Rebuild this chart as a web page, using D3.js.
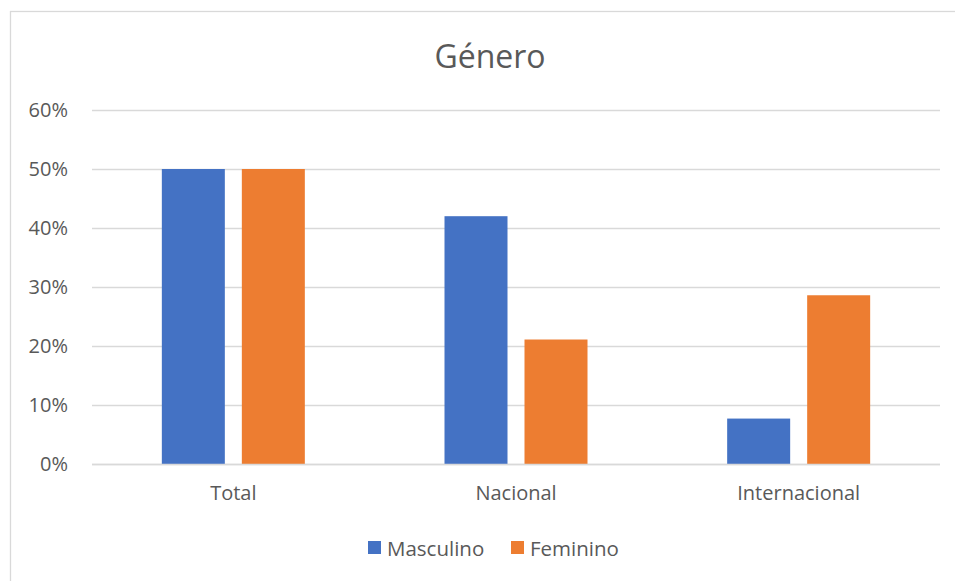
<!DOCTYPE html>
<html>
<head>
<meta charset="utf-8">
<script src="https://cdn.jsdelivr.net/npm/d3@7"></script>
<style>
  html, body { margin: 0; padding: 0; background: #fff; }
  svg { display: block; font-family: "Open Sans", "Noto Sans", sans-serif; }
</style>
</head>
<body>
<svg id="chart" width="955" height="581"></svg>
<script>
// Gender breakdown by group
const categories = ["Total", "Nacional", "Internacional"];
const seriesNames = ["Masculino", "Feminino"];
const masculino = [0.50, 0.42, 0.077];
const feminino = [0.50, 0.211, 0.286];
const yTicks = [0, 0.1, 0.2, 0.3, 0.4, 0.5, 0.6];
const colors = ["#4472c4", "#ed7d31"];

const seriesValues = [masculino, feminino];
const rows = categories.map((c, i) => ({
  category: c,
  values: seriesNames.map((s, j) => ({ series: s, value: seriesValues[j][i] }))
}));

const svg = d3.select("#chart");
const W = 955, H = 581;
const plot = { left: 92, right: 940, top: 110, bottom: 464 };
const fontStack = "'Open Sans', 'Noto Sans', sans-serif";
const textColor = "#595959";

// Chart frame
svg.append("rect")
  .attr("x", 10.5).attr("y", 11.5)
  .attr("width", W).attr("height", H)
  .attr("fill", "#fff")
  .attr("stroke", "#d9d9d9").attr("stroke-width", 1.3);

const y = d3.scaleLinear().domain([0, 0.6]).range([plot.bottom, plot.top]);
const x0 = d3.scaleBand().domain(categories).range([plot.left, plot.right]).padding(0);
const groupWidth = 143;
const x1 = d3.scaleBand().domain(seriesNames).range([0, groupWidth])
  .paddingInner(0.2125).paddingOuter(0);
const color = d3.scaleOrdinal().domain(seriesNames).range(colors);

// Title
svg.append("text")
  .attr("x", 490).attr("y", 68)
  .attr("text-anchor", "middle")
  .attr("font-size", 32)
  .attr("fill", textColor)
  .text("Género");

// Gridlines and y labels
const yAxis = d3.axisLeft(y)
  .tickValues(yTicks)
  .tickFormat(d3.format(".0%"))
  .tickSize(-(plot.right - plot.left))
  .tickPadding(24);

const gy = svg.append("g")
  .attr("transform", `translate(${plot.left},0)`)
  .call(yAxis);
gy.select(".domain").remove();
gy.selectAll(".tick line")
  .attr("stroke", "#d9d9d9").attr("stroke-width", 1.3);
gy.selectAll(".tick text")
  .attr("fill", textColor)
  .attr("font-size", 20)
  .attr("font-family", fontStack);

// Bars
const groups = svg.append("g").selectAll("g")
  .data(rows)
  .join("g")
  .attr("transform", d => `translate(${x0(d.category) + (x0.bandwidth() - groupWidth) / 2},0)`);

groups.selectAll("rect")
  .data(d => d.values)
  .join("rect")
  .attr("x", d => x1(d.series))
  .attr("y", d => y(d.value))
  .attr("width", x1.bandwidth())
  .attr("height", d => y(0) - y(d.value))
  .attr("fill", d => color(d.series));

// Baseline
svg.append("line")
  .attr("x1", plot.left).attr("x2", plot.right)
  .attr("y1", y(0) + 0.5).attr("y2", y(0) + 0.5)
  .attr("stroke", "#d9d9d9").attr("stroke-width", 1.3);

// Category axis labels
const xAxis = d3.axisBottom(x0).tickSize(0).tickPadding(22);
const gx = svg.append("g")
  .attr("transform", `translate(0,${plot.bottom})`)
  .call(xAxis);
gx.select(".domain").remove();
gx.selectAll(".tick text")
  .attr("fill", textColor)
  .attr("font-size", 20)
  .attr("font-family", fontStack);

// Legend
const legendItems = [
  { name: seriesNames[0], x: 368 },
  { name: seriesNames[1], x: 511 }
];
const lg = svg.append("g").selectAll("g")
  .data(legendItems)
  .join("g")
  .attr("transform", d => `translate(${d.x},541)`);
lg.append("rect")
  .attr("width", 13).attr("height", 13)
  .attr("fill", d => color(d.name));
lg.append("text")
  .attr("x", 19).attr("y", 14.5)
  .attr("font-size", 20.5)
  .attr("fill", textColor)
  .text(d => d.name);
</script>
</body>
</html>
